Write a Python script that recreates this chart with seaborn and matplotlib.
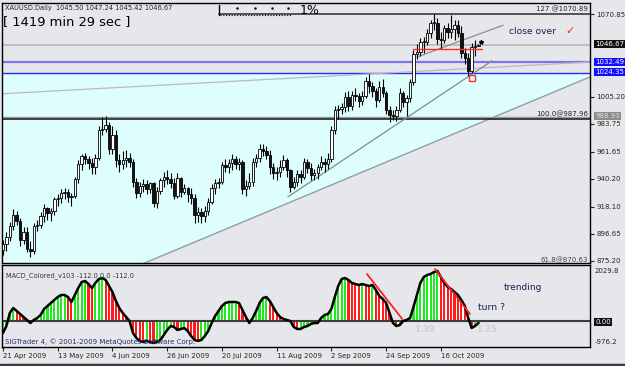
import numpy as np
import pandas as pd
import matplotlib
matplotlib.use("Agg")
import matplotlib.pyplot as plt
from matplotlib.lines import Line2D
import seaborn as sns

# ---- data (XAUUSD daily) ----
dates = pd.bdate_range("2009-04-21", "2009-11-02")

opens = [884, 889, 894, 903, 912, 907, 892, 898, 885, 883,
         903, 904, 911, 917, 913, 915, 924, 925, 929, 930,
         926, 927, 940, 952, 958, 956, 953, 950, 957, 979,
         980, 983, 964, 975, 955, 952, 955, 957, 954, 938,
         929, 935, 936, 932, 937, 921, 931, 939, 942, 940,
         937, 927, 941, 930, 933, 928, 925, 912, 914, 911,
         915, 922, 933, 937, 938, 951, 950, 953, 956, 952,
         954, 932, 935, 938, 954, 957, 964, 962, 959, 950,
         945, 946, 950, 955, 947, 934, 938, 944, 942, 954,
         949, 943, 945, 950, 954, 952, 956, 979, 995, 996,
         997, 1005, 998, 1007, 1006, 1002, 1006, 1018, 1014, 1010,
         1003, 1013, 1008, 995, 991, 990, 995, 1008, 1001, 1004,
         1017, 1039, 1041, 1049, 1049, 1056, 1064, 1064, 1051, 1050,
         1060, 1057, 1059, 1062, 1056, 1040, 1036, 1026, 1045, 1045.50]
closes = [889, 894, 903, 912, 907, 892, 898, 885, 883, 903,
          904, 911, 917, 913, 915, 924, 925, 929, 930, 926,
          927, 940, 952, 958, 956, 953, 950, 957, 979, 980,
          983, 964, 975, 955, 952, 955, 957, 954, 938, 929,
          935, 936, 932, 937, 921, 931, 939, 942, 940, 937,
          927, 941, 930, 933, 928, 925, 912, 914, 911, 915,
          922, 933, 937, 938, 951, 950, 953, 956, 952, 954,
          932, 935, 938, 954, 957, 964, 962, 959, 950, 945,
          946, 950, 955, 947, 934, 938, 944, 942, 954, 949,
          943, 945, 950, 954, 952, 956, 979, 995, 996, 997,
          1005, 998, 1007, 1006, 1002, 1006, 1018, 1014, 1010, 1003,
          1013, 1008, 995, 991, 990, 995, 1008, 1001, 1004, 1017,
          1039, 1041, 1049, 1049, 1056, 1064, 1064, 1051, 1050, 1060,
          1057, 1059, 1062, 1056, 1040, 1036, 1026, 1045, 1045.5, 1046.67]
highs = [892, 898, 906, 916, 915, 909, 902, 902, 891, 905,
         908, 914, 920, 918, 917, 926, 928, 932, 933, 932,
         929, 942, 955, 960, 961, 958, 957, 960, 982, 989,
         990, 985, 982, 979, 960, 962, 963, 961, 956, 941,
         938, 940, 939, 938, 938, 934, 941, 946, 947, 945,
         941, 945, 942, 936, 934, 933, 928, 918, 917, 919,
         925, 936, 940, 941, 954, 956, 956, 960, 958, 957,
         955, 939, 945, 957, 960, 968, 968, 966, 963, 953,
         950, 955, 959, 957, 948, 942, 947, 947, 957, 956,
         953, 948, 952, 958, 957, 961, 982, 998, 999, 1000,
         1009, 1010, 1010, 1012, 1008, 1010, 1021, 1023, 1017, 1012,
         1018, 1019, 1010, 998, 995, 998, 1012, 1010, 1007, 1019,
         1042, 1047, 1052, 1053, 1059, 1066, 1071, 1068, 1057, 1062,
         1064, 1070, 1066, 1066, 1061, 1044, 1040, 1048, 1050, 1047.24]
lows = [880, 883, 891, 900, 904, 887, 889, 882, 878, 881,
        899, 901, 906, 908, 907, 912, 919, 921, 924, 922,
        919, 925, 937, 947, 952, 948, 944, 944, 955, 975,
        977, 960, 960, 950, 946, 948, 950, 950, 934, 925,
        926, 930, 928, 929, 918, 917, 928, 934, 936, 933,
        924, 925, 926, 928, 922, 920, 905, 906, 905, 906,
        912, 920, 928, 933, 936, 946, 945, 947, 948, 947,
        928, 927, 932, 935, 950, 954, 958, 956, 944, 940,
        939, 942, 947, 942, 930, 932, 935, 937, 940, 945,
        939, 939, 940, 947, 946, 948, 954, 976, 988, 992,
        993, 994, 995, 1002, 997, 999, 1004, 1008, 1005, 997,
        1001, 1005, 992, 985, 987, 986, 993, 997, 990, 1001,
        1015, 1035, 1038, 1040, 1046, 1052, 1058, 1047, 1043, 1048,
        1052, 1052, 1050, 1053, 1036, 1031, 1022, 1024, 1038, 1045.42]

macd = [-487, -203, 325, 528, 406, 284, 162, 41, -81, 41,
        122, 244, 487, 609, 731, 853, 974, 1056, 1056, 974,
        771, 1056, 1340, 1583, 1624, 1502, 1340, 1543, 1705, 1746,
        1665, 1421, 1177, 812, 528, 325, 162, 0, -487, -690,
        -812, -853, -812, -853, -893, -853, -771, -568, -365, -203,
        -244, -365, -325, -284, -406, -609, -771, -812, -771, -609,
        -406, -81, 203, 406, 609, 731, 771, 771, 771, 731,
        447, 162, -81, 122, 406, 731, 934, 974, 812, 568,
        325, 162, 81, 41, 0, -244, -325, -325, -244, -203,
        -122, -81, -81, 122, 244, 284, 487, 974, 1421, 1705,
        1746, 1665, 1543, 1502, 1462, 1502, 1462, 1421, 1462, 1259,
        1015, 893, 731, 325, -81, -203, -162, 0, 41, 122,
        568, 1056, 1543, 1786, 1868, 1908, 1989, 2030, 1786, 1543,
        1380, 1299, 1177, 1056, 853, 609, 122, -284, -203, -81]

price_ticks = [1070.85, 1005.20, 983.75, 961.65, 940.20, 918.10, 896.65, 875.20]
date_labels = ["21 Apr 2009", "13 May 2009", "4 Jun 2009", "26 Jun 2009", "20 Jul 2009",
               "11 Aug 2009", "2 Sep 2009", "24 Sep 2009", "16 Oct 2009"]

# ---- style ----
sns.set_style("white")
plt.rcParams['font.family'] = ['DejaVu Sans']

BG = '#e6e7ea'
W, H = 625, 366
fig = plt.figure(figsize=(W / 100, H / 100), dpi=100, facecolor=BG)

def fx(px):
    return px / W

def fy(py):
    return 1 - py / H

XMIN, XMAX = -0.29, 171.6
ax1 = fig.add_axes([fx(2), fy(263), 588 / W, 260 / H], facecolor=BG)
ax2 = fig.add_axes([fx(2), fy(347), 588 / W, 82 / H], facecolor=BG)

x = np.arange(len(closes))
o, c = np.array(opens, float), np.array(closes, float)
h, l = np.array(highs, float), np.array(lows, float)

# ---- main price panel ----
ylo, yhi = 873.6, 1079.6
ax1.set_xlim(XMIN, XMAX)
ax1.set_ylim(ylo, yhi)

# cyan zone between 1024.35 and the long rising trendline
xx = np.linspace(XMIN, XMAX, 300)
line_a = 872 + (xx - 40) * (1021 - 872) / (171.6 - 40)
ax1.fill_between(xx, np.maximum(line_a, ylo), 1024.35, color='#defefe', lw=0, zorder=0)
ax1.plot(xx, line_a, color='#8f9ea4', lw=1.0, zorder=1)

# horizontal levels
ax1.plot([63.2, XMAX], [1070.89, 1070.89], color='#3a3a3a', lw=1.2, zorder=2)
ax1.axhline(1046.67, color='#b8b8b8', lw=1.2, zorder=1)
ax1.axhline(1032.49, color='#7b74f0', lw=1.6, zorder=2)
ax1.axhline(1024.35, color='#2a2aff', lw=1.0, zorder=2)
ax1.axhline(989.4, color='#9a9a9a', lw=1.0, zorder=2)
ax1.axhline(987.96, color='#111111', lw=1.1, zorder=2)

# trendlines
ax1.plot([XMIN, XMAX], [1007.7, 1032.8], color='#bdb8c0', lw=0.9, zorder=2)
ax1.plot([83.3, 143], [926, 1033.9], color='#7d8a90', lw=0.9, zorder=3)
ax1.plot([121, 146.2], [1036.8, 1062], color='#8d8d95', lw=0.9, zorder=3)
ax1.plot([120, 140], [1043, 1043], color='#ff2a2a', lw=1.0, zorder=6)

# candles
up = c >= o
ax1.vlines(x, l, h, color='black', lw=0.8, zorder=4)
ax1.bar(x, np.maximum(np.abs(c - o), 0.6), bottom=np.minimum(o, c), width=0.7,
        color=np.where(up, 'white', '#141414'), edgecolor='black', lw=0.6, zorder=5)
ax1.plot(137, 1020.5, marker='s', ms=4, mfc='none', mec='#ff3030', mew=1, zorder=7)
ax1.plot(139.6, 1049, marker='*', ms=3, color='black', zorder=7)

ax1.yaxis.tick_right()
ax1.set_yticks(price_ticks)
ax1.set_yticklabels([f"{v:.2f}" for v in price_ticks], fontsize=5)
ax1.tick_params(axis='y', length=3, width=0.8, pad=1.5, right=True, direction='out')
ax1.set_xticks([])
for s in ax1.spines.values():
    s.set_color('black')
    s.set_linewidth(1.0)

# ---- MACD panel ----
m = np.array(macd, float)
ax2.set_xlim(XMIN, XMAX)
ax2.set_ylim(-1056, 2274)
rising = np.r_[True, np.diff(m) >= 0]
ax2.fill_between(x, m, 0, color='white', lw=0, zorder=1)
ax2.bar(x, m, width=0.62, color=np.where(rising, '#22ea22', '#ff1c1c'), lw=0, zorder=2)
sns.lineplot(x=x, y=m, ax=ax2, color='black', lw=1.8, zorder=3)
ax2.axhline(0, color='#3c3c3c', lw=1.5, zorder=2)
ax2.plot([106.4, 116.7], [1908, 81], color='#ff2020', lw=1.3, zorder=4)
ax2.plot([126.3, 136.5], [2111, 284], color='#ff2020', lw=1.3, zorder=4)

pos = [dates.get_loc(pd.Timestamp(d)) for d in date_labels]
ax2.set_xticks(pos)
ax2.set_xticklabels(date_labels, fontsize=5)
for lbl in ax2.get_xticklabels():
    lbl.set_ha('left')
ax2.tick_params(axis='x', length=3, width=0.8, pad=1.5, bottom=True, direction='out')
ax2.set_yticks([])
ax2.set_xlabel('')
ax2.set_ylabel('')
for s in ax2.spines.values():
    s.set_color('black')
    s.set_linewidth(1.0)

# ---- texts ----
fig.text(fx(5), fy(8), "XAUUSD.Daily  1045.50 1047.24 1045.42 1046.67", fontsize=4.8,
         va='center', color='#222222')
fig.text(fx(3), fy(22), "[ 1419 min 29 sec ]", fontsize=9.4, va='center', color='black')
fig.add_artist(Line2D([fx(219), fx(219)], [fy(5), fy(15)], color='black', lw=1))
for px in [237, 255, 272, 288]:
    fig.add_artist(Line2D([fx(px)], [fy(8)], marker='.', ms=1.5, color='black'))
fig.add_artist(Line2D([fx(220), fx(292)], [fy(14.5), fy(14.5)], color='black', lw=0.8,
                      ls=(0, (1, 1.5))))
fig.text(fx(300), fy(11), "1%", fontsize=9, va='center', color='black')

fig.text(fx(588), fy(9.5), "127 @1070.89", fontsize=5, va='center', ha='right', color='#222222')
fig.text(fx(588), fy(114), "100.0@987.96", fontsize=5, va='center', ha='right', color='#222222')
fig.text(fx(588), fy(260), "61.8@870.63", fontsize=5, va='center', ha='right', color='#444444')
fig.text(fx(509), fy(31), "close over", fontsize=6.6, va='center', color='#1c1c50')
fig.text(fx(565), fy(31), "\u2713", fontsize=8, va='center', color='#ff2020', fontweight='bold')

box = dict(boxstyle='square,pad=0.18', lw=0)
fig.text(fx(595), fy(44), "1046.67", fontsize=5, va='center', color='white', bbox=dict(box, fc='#111111'))
fig.text(fx(595), fy(62), "1032.49", fontsize=5, va='center', color='white', bbox=dict(box, fc='#1010ff'))
fig.text(fx(595), fy(72), "1024.35", fontsize=5, va='center', color='white', bbox=dict(box, fc='#1010ff'))
fig.text(fx(595), fy(116), "988.93", fontsize=5, va='center', color='#dddddd', bbox=dict(box, fc='#8c8c8c'))

fig.text(fx(6), fy(276), "MACD_Colored_v103 -112.0 0.0 -112.0", fontsize=4.8, va='center', color='#333333')
fig.text(fx(5), fy(342), "SIGTrader 4, \u00a9 2001-2009 MetaQuotes Software Corp.", fontsize=5,
         va='center', color='#2b2b6b', zorder=10)
fig.text(fx(504), fy(287), "trending", fontsize=6.5, va='center', color='#1c1c50')
fig.text(fx(478), fy(307), "turn ?", fontsize=6.7, va='center', color='#1c1c50')
fig.text(fx(414), fy(330), "1.39", fontsize=6, va='center', color='#cfcfcf', fontweight='bold')
fig.text(fx(476), fy(330), "1.25", fontsize=6, va='center', color='#cfcfcf', fontweight='bold')

fig.text(fx(595), fy(271), "2029.8", fontsize=5, va='center', color='#222222')
fig.text(fx(595), fy(322), "0.00", fontsize=5, va='center', color='white', bbox=dict(box, fc='#111111'))
fig.text(fx(595), fy(342), "-976.2", fontsize=5, va='center', color='#222222')

# window frame at the bottom
fig.add_artist(Line2D([0, 1], [fy(364.5), fy(364.5)], color='#3a3a3a', lw=2.5))

fig.savefig("out.png", dpi=100, facecolor=BG)
